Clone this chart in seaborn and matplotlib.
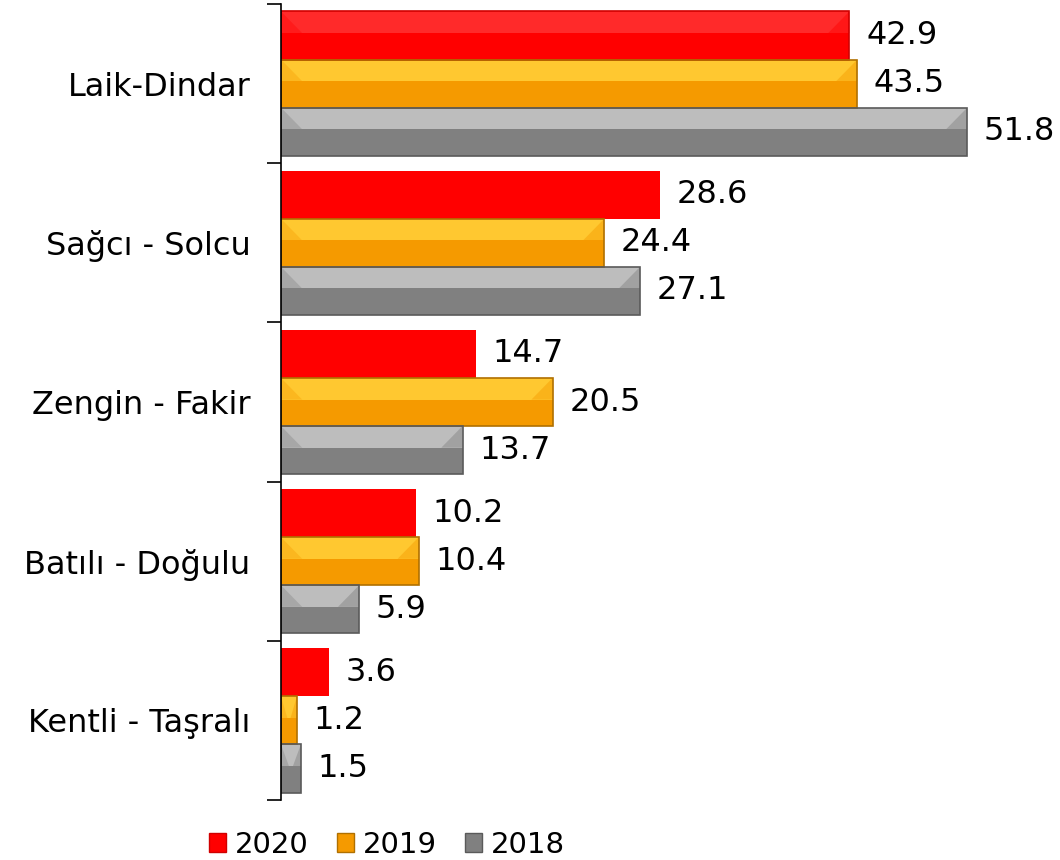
import pandas as pd
import seaborn as sns
import matplotlib.pyplot as plt
from matplotlib.patches import Rectangle, Polygon
from matplotlib.ticker import FixedLocator

categories = ["Laik-Dindar", "Sağcı - Solcu", "Zengin - Fakir", "Batılı - Doğulu", "Kentli - Taşralı"]
years = ["2020", "2019", "2018"]
values_2020 = [42.9, 28.6, 14.7, 10.2, 3.6]
values_2019 = [43.5, 24.4, 20.5, 10.4, 1.2]
values_2018 = [51.8, 27.1, 13.7, 5.9, 1.5]

base_colors = {"2020": "#FF0000", "2019": "#F59A00", "2018": "#808080"}
light_colors = {"2020": "#FF2A2A", "2019": "#FFC830", "2018": "#BDBDBD"}
edge_colors = {"2020": "#D00000", "2019": "#B07000", "2018": "#5A5A5A"}


def build_frame() -> pd.DataFrame:
    rows = []
    for year, vals in zip(years, [values_2020, values_2019, values_2018]):
        for cat, v in zip(categories, vals):
            rows.append({"Kategori": cat, "Yıl": year, "Değer": v})
    return pd.DataFrame(rows)


def add_bevel(ax, patch, year):
    x, y = patch.get_x(), patch.get_y()
    w, h = patch.get_width(), patch.get_height()
    z = patch.get_zorder()
    # lighter upper band for the 3D look
    ax.add_patch(Rectangle((x, y), w, h * 0.45, facecolor=light_colors[year],
                           edgecolor="none", zorder=z + 0.1))
    # bevel corners on both ends
    b = min(w * 0.4, 1.6)
    ax.add_patch(Polygon([(x + w, y), (x + w - b, y + h * 0.45), (x + w, y + h * 0.45)],
                         closed=True, facecolor=base_colors[year], alpha=0.45,
                         edgecolor="none", zorder=z + 0.2))
    ax.add_patch(Polygon([(x, y), (x + b, y + h * 0.45), (x, y + h * 0.45)],
                         closed=True, facecolor=base_colors[year], alpha=0.35,
                         edgecolor="none", zorder=z + 0.2))
    ax.add_patch(Rectangle((x, y), w, h, facecolor="none", edgecolor=edge_colors[year],
                           linewidth=1.2, zorder=z + 0.3))


df = build_frame()

fig = plt.figure(figsize=(10.6, 8.6), dpi=100)
ax = fig.add_axes([281 / 1060, 1 - 800 / 860, 1 - 281 / 1060, (800 - 4) / 860])

sns.barplot(data=df, y="Kategori", x="Değer", hue="Yıl", orient="h",
            palette=base_colors, width=0.906, saturation=1, ax=ax,
            legend=False, edgecolor="none")

for year, container in zip(years, ax.containers):
    for i, patch in enumerate(container.patches):
        if year == "2020" and i > 0:
            continue
        add_bevel(ax, patch, year)
    ax.bar_label(container, fmt="%.1f", padding=12, fontsize=23)

ax.set_xlim(0, 58.8)
ax.set_ylim(len(categories) - 0.5, -0.5)
ax.set_xlabel("")
ax.set_ylabel("")
ax.set_xticks([])
for side in ["top", "right", "bottom"]:
    ax.spines[side].set_visible(False)
ax.spines["left"].set_color("black")
ax.spines["left"].set_linewidth(1.2)

ax.tick_params(axis="y", which="major", length=0, pad=22, labelsize=23)
ax.yaxis.set_minor_locator(FixedLocator([i - 0.5 for i in range(len(categories) + 1)]))
ax.tick_params(axis="y", which="minor", length=10, width=1.2, color="black")

handles = [Rectangle((0, 0), 1, 1, facecolor=base_colors[y], edgecolor=edge_colors[y]) for y in years]
fig.legend(handles, years, loc="center", bbox_to_anchor=(387 / 1060, 1 - 845 / 860),
           ncol=3, frameon=False, fontsize=21, handlelength=0.6, handleheight=0.6,
           handletextpad=0.3, columnspacing=0.95)

fig.savefig("out.png", dpi=100)
plt.close(fig)
